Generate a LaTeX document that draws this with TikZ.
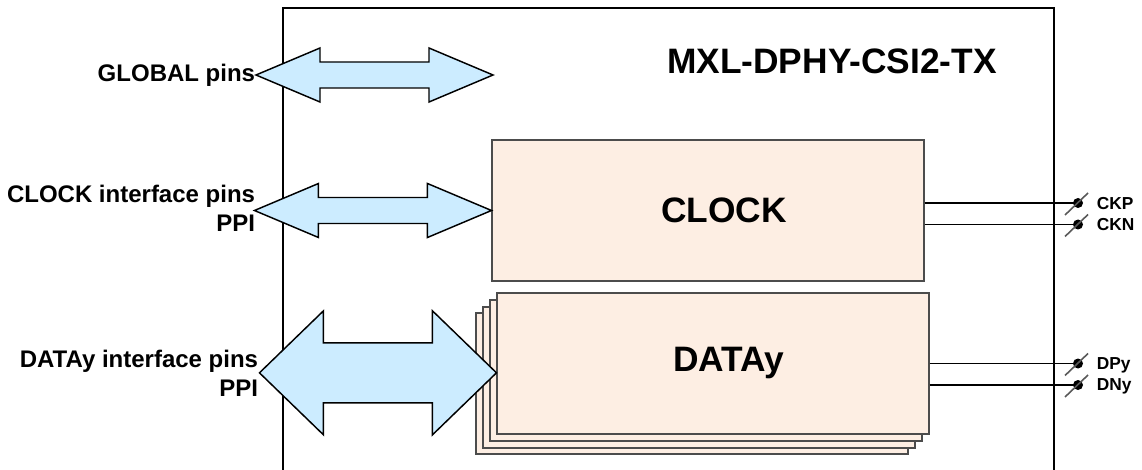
\documentclass[tikz,border=0pt]{standalone}
\usepackage{fontspec}
\setmainfont{Liberation Sans}
\usepackage{xcolor}
\usepackage{tikz}
\usetikzlibrary{positioning}

\definecolor{pipeblue}{RGB}{204,236,255}
\definecolor{blockpeach}{RGB}{253,238,227}

\begin{document}
\begin{tikzpicture}[
    x=0.75pt, y=-0.75pt,
    chip/.style={draw=black, line width=1.3pt},
    block/.style={rectangle, draw=black!70, fill=blockpeach, line width=0.8pt, minimum width=324pt, minimum height=105.75pt, inner sep=0pt},
    blocktext/.style={font=\bfseries\fontsize{26.5}{30}\selectfont},
    pipe/.style={draw=black, fill=pipeblue, line width=1.1pt, line join=miter},
    sidelabel/.style={font=\bfseries\fontsize{18}{21.5}\selectfont, align=right, anchor=east, inner sep=2pt},
    pindot/.style={circle, fill=black, minimum size=7.5pt, inner sep=0pt},
    pinname/.style={font=\bfseries\fontsize{13}{15}\selectfont, text depth=0pt, inner sep=1pt},
    wire/.style={draw=black, line width=1.4pt},
    slash/.style={draw=black!65, line width=1.2pt}
]
\useasboundingbox (0,0) rectangle (1142,470);

% Chip outline, open at the bottom
\draw[chip] (283,470) |- (1054,8) -- (1054,470);
\node[blocktext] (title) at (832,61) {MXL-DPHY-CSI2-TX};

% Clock lane
\node[block] (clock) at (708,210.5) {};
\node[blocktext] (clocktxt) at ([xshift=12pt]clock.center) {CLOCK};

% Data lanes (stacked)
\node[block] (data3) at (692,383.5) {};
\node[block] (data2) at (699,377.5) {};
\node[block] (data1) at (706,370.5) {};
\node[block] (data) at (713,363.5) {};
\node[blocktext] (datatxt) at ([xshift=12pt]data.center) {DATAy};

% Interface pipes
\coordinate (gtip) at (493,75);
\draw[pipe] (gtip) -- ++(-64,-27) -- ++(0,14) -- ++(-109,0) -- ++(0,-14) -- ++(-64,27)
    -- ++(64,27) -- ++(0,-14) -- ++(109,0) -- ++(0,14) -- cycle;
\draw[pipe] (clock.west) -- ++(-64,-27) -- ++(0,14) -- ++(-109,0) -- ++(0,-14) -- ++(-64,27)
    -- ++(64,27) -- ++(0,-14) -- ++(109,0) -- ++(0,14) -- cycle;
\draw[pipe] ([yshift=-7pt]data.west) -- ++(-64,-62) -- ++(0,32) -- ++(-109,0) -- ++(0,-32) -- ++(-64,62)
    -- ++(64,62) -- ++(0,-32) -- ++(109,0) -- ++(0,32) -- cycle;

% Side labels
\node[sidelabel] (globallbl) at (258,75) {GLOBAL pins};
\node[sidelabel] (clocklbl) at (258,208) {CLOCK interface pins\\PPI};
\node[sidelabel] (datalbl) at (261,373) {DATAy interface pins\\PPI};

% Output pins
\node[pindot] (ckp) at (1078,203) {};
\node[pindot] (ckn) at (1078,224.5) {};
\node[pindot] (dpy) at (1078,363.5) {};
\node[pindot] (dny) at (1078,385) {};

\draw[wire] (clock.east |- ckp) -- (ckp.center);
\draw[wire] (clock.east |- ckn) -- (ckn.center);
\draw[wire] (data.east |- dpy) -- (dpy.center);
\draw[wire] (data.east |- dny) -- (dny.center);

\draw[slash] ([shift={(-13,12)}]ckp.center) -- ([shift={(10,-10)}]ckp.center);
\draw[slash] ([shift={(-13,12)}]ckn.center) -- ([shift={(10,-10)}]ckn.center);
\draw[slash] ([shift={(-13,12)}]dpy.center) -- ([shift={(10,-10)}]dpy.center);
\draw[slash] ([shift={(-13,12)}]dny.center) -- ([shift={(10,-10)}]dny.center);

\node[pinname, right=9pt of ckp] (ckplbl) {CKP};
\node[pinname, right=9pt of ckn] (cknlbl) {CKN};
\node[pinname, right=9pt of dpy] (dpylbl) {DPy};
\node[pinname, right=9pt of dny] (dnylbl) {DNy};

\end{tikzpicture}
\end{document}
